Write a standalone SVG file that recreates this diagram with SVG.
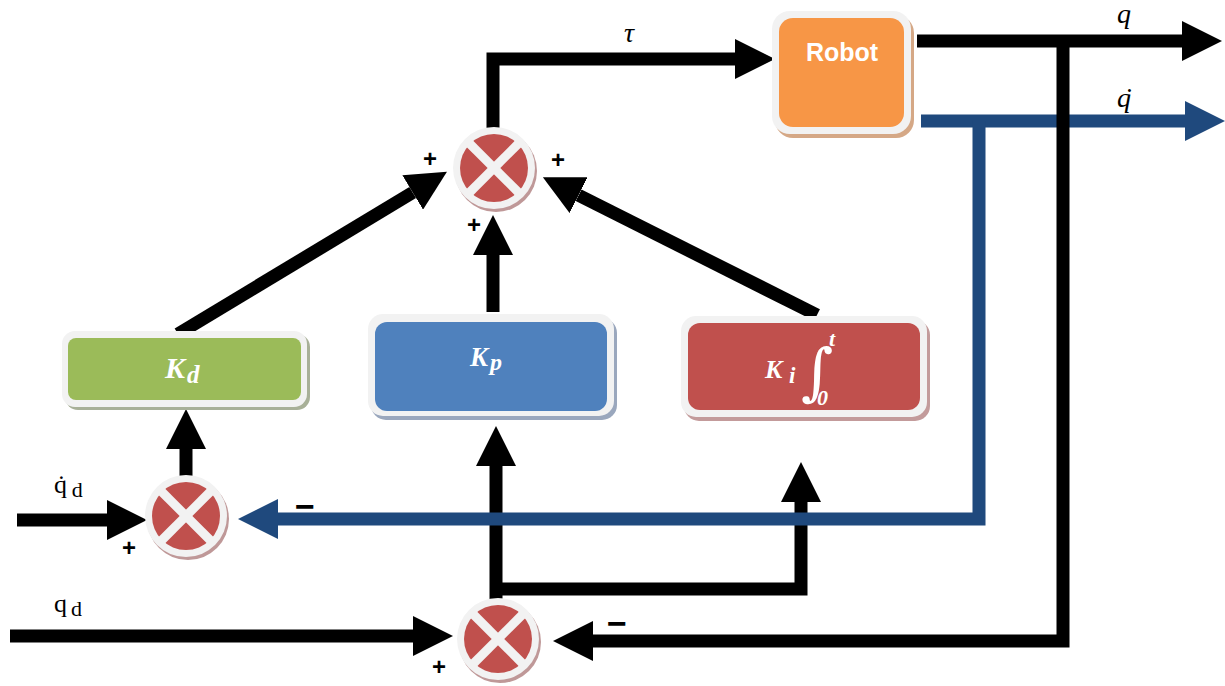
<svg xmlns="http://www.w3.org/2000/svg" width="1225" height="686" viewBox="0 0 1225 686">
<style>
.blk{fill:none;stroke:#000;stroke-width:13;stroke-linejoin:miter}
.blu{fill:none;stroke:#1F497D;stroke-width:13;stroke-linejoin:miter}
.ring{fill:#F2F2F2}
.jsh{fill:#BF9898}
.core{fill:#C0504D}
.xb{stroke:#F2F2F2;stroke-width:9}
.frame{fill:#F2F2F2}
.math{font-family:"Liberation Serif","DejaVu Serif",serif;font-weight:bold;font-style:italic;fill:#fff}
.lbl{font-family:"Liberation Serif","DejaVu Serif",serif;fill:#000}
.sign{font-family:"Liberation Sans",Arial,sans-serif;font-weight:bold;fill:#000;text-anchor:middle}
</style>
<defs>
<marker id="arr" markerUnits="userSpaceOnUse" viewBox="0 0 40 40" markerWidth="40" markerHeight="40" refX="0" refY="20" orient="auto"><path d="M0,0 L40,20 L0,40 Z" fill="#000"/></marker>
<marker id="arrB" markerUnits="userSpaceOnUse" viewBox="0 0 40 40" markerWidth="40" markerHeight="40" refX="0" refY="20" orient="auto"><path d="M0,0 L40,20 L0,40 Z" fill="#1F497D"/></marker>
</defs>
<rect width="1225" height="686" fill="#fff"/>

<g id="connectors">
<path class="blk" d="M496,602 V466" marker-end="url(#arr)"/>
<path class="blk" d="M496,589 H801 V502" marker-end="url(#arr)"/>
<path class="blk" d="M10,636 H413" marker-end="url(#arr)"/>
<path class="blk" d="M17,520 H107" marker-end="url(#arr)"/>
<path class="blk" d="M186,478 V449" marker-end="url(#arr)"/>
<path class="blk" d="M178,334 L412.7,192.5" marker-end="url(#arr)"/>
<path class="blk" d="M817,315 L578.6,195.2" marker-end="url(#arr)"/>
<path class="blk" d="M493,312 V255" marker-end="url(#arr)"/>
<path class="blk" d="M493,132 V59 H735" marker-end="url(#arr)"/>
<path class="blk" d="M917,41 H1182" marker-end="url(#arr)"/>
<path class="blu" d="M921,121 H1185" marker-end="url(#arrB)"/>
<path class="blu" d="M979,121 V519 H278" marker-end="url(#arrB)"/>
<path class="blk" d="M1063,41 V641 H593" marker-end="url(#arr)"/>
</g>

<g id="sum-top">
<circle cx="496" cy="171" r="41" class="jsh"/>
<circle cx="494" cy="168" r="41" class="ring"/>
<circle cx="494" cy="168" r="34" class="core"/>
<line x1="469" y1="143" x2="519" y2="193" class="xb"/>
<line x1="519" y1="143" x2="469" y2="193" class="xb"/>
</g>

<g id="sum-vel">
<circle cx="188" cy="519" r="41" class="jsh"/>
<circle cx="186" cy="516" r="41" class="ring"/>
<circle cx="186" cy="516" r="34" class="core"/>
<line x1="161" y1="491" x2="211" y2="541" class="xb"/>
<line x1="211" y1="491" x2="161" y2="541" class="xb"/>
</g>

<g id="sum-pos">
<circle cx="500" cy="642" r="41" class="jsh"/>
<circle cx="498" cy="639" r="41" class="ring"/>
<circle cx="498" cy="639" r="34" class="core"/>
<line x1="473" y1="614" x2="523" y2="664" class="xb"/>
<line x1="523" y1="614" x2="473" y2="664" class="xb"/>
</g>

<g id="robot">
<rect x="775" y="15" width="139" height="123" rx="18" fill="#D5A886"/>
<rect x="772" y="11" width="139" height="123" rx="18" class="frame"/>
<rect x="779" y="18" width="125" height="109" rx="14" fill="#F79646"/>
<text x="842" y="61" text-anchor="middle" font-family="'Liberation Sans',Arial,sans-serif" font-weight="bold" font-size="25" fill="#fff">Robot</text>
</g>

<g id="kd">
<rect x="65" y="334" width="245" height="76" rx="13" fill="#A8B098"/>
<rect x="62" y="331" width="245" height="76" rx="13" class="frame"/>
<rect x="68" y="338" width="233" height="62" rx="8" fill="#9BBB59"/>
<text x="165" y="378" class="math" font-size="30">K<tspan dx="2" dy="5" font-size="25">d</tspan></text>
</g>

<g id="kp">
<rect x="371" y="318" width="246" height="102" rx="15" fill="#9AA7BD"/>
<rect x="368" y="314" width="246" height="102" rx="15" class="frame"/>
<rect x="375" y="322" width="232" height="89" rx="12" fill="#4F81BD"/>
<text x="470" y="366" class="math" font-size="27">K<tspan dx="2" dy="4" font-size="24">p</tspan></text>
</g>

<g id="ki">
<rect x="684" y="320" width="246" height="101" rx="15" fill="#C39B9B"/>
<rect x="681" y="316" width="246" height="101" rx="15" class="frame"/>
<rect x="688" y="323" width="232" height="87" rx="12" fill="#C0504D"/>
<text x="765" y="378" class="math" font-size="26">K<tspan x="789" y="383" font-size="23">i</tspan></text>
<text x="801" y="393" font-family="'DejaVu Serif',serif" font-size="62" fill="#fff">∫</text>
<text x="829" y="346" class="math" font-size="22">t</text>
<text x="817" y="405" class="math" font-size="22" font-style="normal">0</text>
</g>

<g id="labels">
<text x="624" y="42" class="lbl" font-size="28" font-style="italic">τ</text>
<text x="1117" y="23" class="lbl" font-size="28" font-style="italic">q</text>
<text x="1117" y="107" class="lbl" font-size="28" font-style="italic">q<tspan dx="-8">˙</tspan></text>
<text x="54" y="493" class="lbl" font-size="26">q<tspan dx="-10">˙</tspan><tspan dx="6" y="497" font-size="22">d</tspan></text>
<text x="54" y="612" class="lbl" font-size="26">q<tspan dx="4" y="616" font-size="22">d</tspan></text>
<text x="430" y="167" class="sign" font-size="24">+</text>
<text x="558" y="168" class="sign" font-size="24">+</text>
<text x="474" y="233" class="sign" font-size="24">+</text>
<text x="129" y="556" class="sign" font-size="24">+</text>
<text x="439" y="675" class="sign" font-size="24">+</text>
<text x="305" y="518" class="sign" font-size="34">−</text>
<text x="617" y="635" class="sign" font-size="34">−</text>
</g>
</svg>
